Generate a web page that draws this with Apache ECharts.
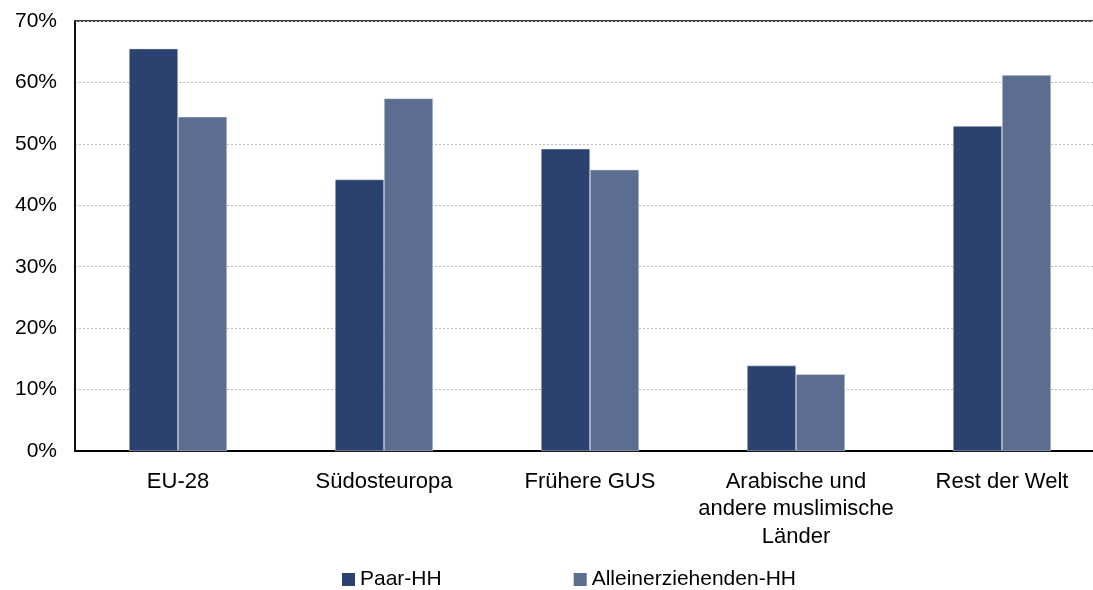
<!DOCTYPE html>
<html><head><meta charset="utf-8">
<script src="https://cdn.jsdelivr.net/npm/echarts@6/dist/echarts.min.js"></script>
<style>html,body{margin:0;padding:0;background:#fff;overflow:hidden;width:1093px;height:590px}#c{width:1105px;height:590px}</style>
</head><body><div id="c"></div>
<script>
const categories = ["EU-28", "Südosteuropa", "Frühere GUS", "Arabische und\nandere muslimische\nLänder", "Rest der Welt"];
const paarHH = [65.5, 44.2, 49.2, 13.9, 52.9];
const alleinHH = [54.4, 57.4, 45.8, 12.5, 61.2];
const seriesNames = ["Paar-HH", "Alleinerziehenden-HH"];
const yTicks = [0, 10, 20, 30, 40, 50, 60, 70];
const font = "'Liberation Sans', Arial, sans-serif";
const chart = echarts.init(document.getElementById('c'), null, {renderer: 'canvas'});
chart.setOption({
  animation: false,
  grid: {left: 75, right: 0, top: 21, bottom: 139, show: true, borderColor: '#000', borderWidth: 1.5},
  legend: {
    top: 569, left: 342, padding: 0, itemGap: 132, itemWidth: 13, itemHeight: 13, icon: 'rect',
    itemStyle: {borderWidth: 0},
    textStyle: {fontFamily: font, fontSize: 21, color: '#000', padding: [0, 0, 0, 0]},
    data: seriesNames
  },
  xAxis: {
    type: 'category', data: categories,
    axisLine: {lineStyle: {color: '#000', width: 2}},
    axisTick: {show: false},
    axisLabel: {fontFamily: font, fontSize: 22, color: '#000', margin: 17, lineHeight: 27.5, interval: 0}
  },
  yAxis: {
    type: 'value', min: 0, max: 70, interval: 10,
    axisLine: {show: true, lineStyle: {color: '#000', width: 1.5}},
    axisTick: {show: false},
    axisLabel: {fontFamily: font, fontSize: 21, color: '#000', margin: 18, formatter: v => yTicks.includes(v) ? v + '%' : ''},
    splitLine: {lineStyle: {color: '#bbb', type: [2, 2], width: 1}}
  },
  series: [
    {name: seriesNames[0], type: 'bar', data: paarHH, barWidth: 49, barGap: '0%',
     itemStyle: {color: '#2b416f', borderColor: '#dfe4ee', borderWidth: 0.5}},
    {name: seriesNames[1], type: 'bar', data: alleinHH, barWidth: 49,
     itemStyle: {color: '#5b6e8f', borderColor: '#dfe4ee', borderWidth: 0.5}}
  ]
});
</script></body></html>
